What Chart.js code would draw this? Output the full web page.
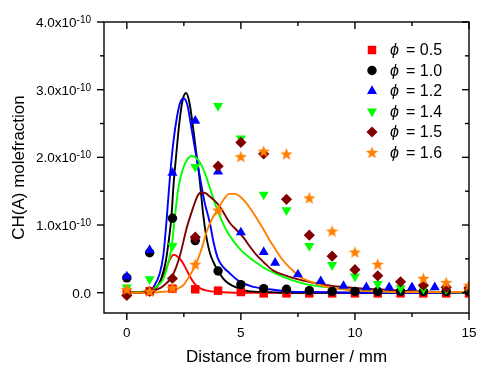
<!DOCTYPE html>
<html>
<head>
<meta charset="utf-8">
<script src="https://cdn.jsdelivr.net/npm/chart.js@4.4.1/dist/chart.umd.min.js"></script>
<style>
  html, body { margin: 0; padding: 0; background: #fff; }
  #wrap { width: 480px; height: 365px; }
</style>
</head>
<body>
<div id="wrap"><canvas id="chart" width="480" height="365"></canvas></div>
<script>
// all CH(A) values are in units of 1e-10
const xMeas = [0, 1, 2, 3, 4, 5, 6, 7, 8, 9, 10, 11, 12, 13, 14, 15];
const phi05 = [0.00, 0.02, 0.06, 0.05, 0.03, 0.01, -0.01, -0.01, -0.01, -0.01, -0.01, -0.01, -0.01, -0.01, -0.01, -0.01];
const phi10 = [0.22, 0.59, 1.10, 0.77, 0.32, 0.12, 0.06, 0.05, 0.03, 0.02, 0.02, 0.02, 0.02, 0.02, 0.02, 0.02];
const xPhi12 = [0, 1, 2, 3, 4, 5, 6, 6.5, 7.5, 8.5, 9.5, 10.5, 11.5, 12.5, 13.5];
const phi12 = [0.24, 0.63, 1.77, 2.54, 1.79, 0.89, 0.60, 0.44, 0.27, 0.17, 0.10, 0.08, 0.08, 0.08, 0.08];
const phi14 = [0.08, 0.20, 0.69, 1.86, 2.76, 2.28, 1.45, 1.22, 0.69, 0.41, 0.24, 0.13, 0.07, 0.06, 0.05, 0.04];
const phi15 = [-0.04, 0.02, 0.21, 0.82, 1.87, 2.22, 2.05, 1.38, 0.85, 0.54, 0.34, 0.25, 0.16, 0.11, 0.08, 0.07];
const xPhi16 = [0, 1, 2, 3, 4, 5, 6, 7, 8, 9, 10, 11, 13, 14, 15];
const phi16 = [0.05, 0.02, 0.07, 0.42, 1.22, 2.01, 2.09, 2.05, 1.40, 0.91, 0.60, 0.42, 0.21, 0.15, 0.11];

// model curves [x, y]
const simPhi05 = [[0,0],[0.5,0],[1,0.02],[1.25,0.07],[1.5,0.17],[1.75,0.38],[1.9,0.5],[2.05,0.56],[2.2,0.54],[2.4,0.47],[2.6,0.35],[2.8,0.22],[3,0.12],[3.25,0.06],[3.5,0.03],[4,0.01],[5,0],[15,0]];
const simPhi10 = [[0,0],[1,0.01],[1.3,0.08],[1.5,0.2],[1.7,0.45],[1.85,0.8],[1.95,1.1],[2.05,1.6],[2.15,1.98],[2.3,2.5],[2.45,2.85],[2.6,2.95],[2.75,2.8],[2.9,2.45],[3.05,2.05],[3.2,1.65],[3.35,1.15],[3.5,0.8],[3.65,0.58],[3.8,0.45],[4,0.32],[4.3,0.18],[4.65,0.1],[5,0.05],[5.4,0.02],[6,0.01],[7,0],[15,0]];
const simPhi12 = [[0,0],[1,0.03],[1.2,0.1],[1.45,0.29],[1.6,0.55],[1.75,1.1],[1.9,1.75],[2.05,2.25],[2.2,2.6],[2.35,2.82],[2.5,2.87],[2.65,2.78],[2.8,2.5],[3,2.1],[3.2,1.72],[3.4,1.35],[3.64,1.03],[3.8,0.75],[4,0.5],[4.25,0.37],[4.5,0.29],[4.8,0.2],[5.1,0.14],[5.5,0.09],[6,0.06],[6.5,0.04],[7,0.02],[8,0.01],[10,0],[15,0]];
const simPhi14 = [[0,0],[1,0.03],[1.15,0.05],[1.4,0.12],[1.6,0.2],[1.8,0.42],[1.97,0.69],[2.1,1.1],[2.26,1.55],[2.45,1.82],[2.65,1.97],[2.85,2.02],[3.05,1.99],[3.25,1.9],[3.45,1.74],[3.64,1.55],[3.85,1.33],[4.08,1.13],[4.35,0.93],[4.66,0.77],[5,0.63],[5.3,0.54],[5.7,0.44],[6.1,0.35],[6.6,0.27],[7.2,0.19],[7.8,0.13],[8.3,0.1],[9.3,0.06],[10,0.04],[11,0.02],[12,0.01],[13,0.01],[15,0]];
const simPhi15 = [[0,0],[1,0.02],[1.6,0.1],[2,0.25],[2.33,0.55],[2.62,0.95],[2.9,1.25],[3.1,1.43],[3.25,1.48],[3.45,1.47],[3.64,1.42],[3.85,1.36],[4.08,1.27],[4.3,1.15],[4.52,1.03],[4.8,0.93],[5.1,0.82],[5.4,0.68],[5.7,0.55],[6,0.45],[6.4,0.33],[7,0.25],[7.6,0.19],[8.3,0.14],[9,0.1],[10,0.07],[11,0.05],[12,0.03],[13,0.02],[14,0.01],[15,0.01]];
const simPhi16 = [[0,0],[1,0],[1.5,0.01],[2,0.03],[2.3,0.07],[2.5,0.12],[2.75,0.25],[3,0.4],[3.25,0.62],[3.5,0.9],[3.75,1.1],[4,1.23],[4.25,1.38],[4.5,1.46],[4.75,1.46],[5,1.41],[5.25,1.32],[5.5,1.2],[5.75,1.07],[6,0.93],[6.25,0.78],[6.5,0.65],[6.75,0.52],[7,0.42],[7.3,0.32],[7.6,0.23],[8,0.17],[8.5,0.11],[9,0.07],[9.5,0.05],[10,0.03],[11,0.02],[12,0.01],[15,0.01]];

const legendLabels = ['0.5', '1.0', '1.2', '1.4', '1.5', '1.6'];
const xTicks = [0, 5, 10, 15];
const xTickLabels = ['0', '5', '10', '15'];
const yTicks = [0, 1, 2, 3, 4];
const yTickLabels = ['0.0', '1.0x10', '2.0x10', '3.0x10', '4.0x10'];
const yTickExp = ['', '-10', '-10', '-10', '-10'];

const FONT = '"Liberation Sans", Arial, sans-serif';

// filled five point star, Chart.js only has the line star
function makeStar(color, size) {
  const c = document.createElement('canvas');
  c.width = size; c.height = size;
  const g = c.getContext('2d');
  const cx = size / 2, cy = size / 2 + 0.5, ro = size / 2, ri = ro * 0.42;
  g.beginPath();
  for (let i = 0; i < 10; i++) {
    const r = i % 2 ? ri : ro;
    const a = -Math.PI / 2 + i * Math.PI / 5;
    g.lineTo(cx + r * Math.cos(a), cy + r * Math.sin(a));
  }
  g.closePath();
  g.fillStyle = color;
  g.fill();
  return c;
}
const starImg = makeStar('#ff8000', 13);

const series = [
  { color: '#ff0000', style: 'rect', radius: 6, rotation: 0, xs: xMeas, ys: phi05, sim: simPhi05 },
  { color: '#000000', style: 'circle', radius: 4.7, rotation: 0, xs: xMeas, ys: phi10, sim: simPhi10 },
  { color: '#0000ff', style: 'triangle', radius: 5.8, rotation: 0, xs: xPhi12, ys: phi12, sim: simPhi12 },
  { color: '#00ff00', style: 'triangle', radius: 5.8, rotation: 180, xs: xMeas, ys: phi14, sim: simPhi14 },
  { color: '#800000', style: 'rectRot', radius: 5.6, rotation: 0, xs: xMeas, ys: phi15, sim: simPhi15 },
  { color: '#ff8000', style: starImg, radius: 6, rotation: 0, xs: xPhi16, ys: phi16, sim: simPhi16 },
];

const datasets = [];
series.forEach((s, i) => {
  datasets.push({
    label: 'sim ' + legendLabels[i],
    data: s.sim.map(p => ({ x: p[0], y: p[1] })),
    showLine: true,
    borderColor: s.color,
    borderWidth: 1.9,
    pointRadius: 0,
    cubicInterpolationMode: 'monotone',
    order: 20 - i,
  });
});
series.forEach((s, i) => {
  datasets.push({
    label: 'phi ' + legendLabels[i],
    data: s.xs.map((x, k) => ({ x: x, y: s.ys[k] })),
    showLine: false,
    pointStyle: s.style,
    pointRadius: s.radius,
    pointRotation: s.rotation,
    pointBackgroundColor: s.color,
    pointBorderColor: s.color,
    pointBorderWidth: 0,
    order: 10 - i,
  });
});

function line(ctx, x1, y1, x2, y2) {
  ctx.beginPath(); ctx.moveTo(x1, y1); ctx.lineTo(x2, y2); ctx.stroke();
}

const framePlugin = {
  id: 'frame',
  afterDatasetsDraw(chart) {
    const { ctx, chartArea: a, scales } = chart;
    const sx = scales.x, sy = scales.y;
    ctx.save();
    ctx.strokeStyle = '#000';
    ctx.lineWidth = 1.4;
    ctx.strokeRect(a.left, a.top, a.right - a.left, a.bottom - a.top);

    // x ticks: out at bottom, in at top
    xTicks.forEach((v, i) => {
      const px = sx.getPixelForValue(v);
      line(ctx, px, a.bottom, px, a.bottom + 7);
      line(ctx, px, a.top, px, a.top + 7);
      if (i < xTicks.length - 1) {
        const pm = sx.getPixelForValue((v + xTicks[i + 1]) / 2);
        line(ctx, pm, a.bottom, pm, a.bottom + 4);
        line(ctx, pm, a.top, pm, a.top + 4);
      }
    });
    // y ticks: out at left, in at right
    yTicks.forEach((v, i) => {
      const py = sy.getPixelForValue(v);
      line(ctx, a.left - 7, py, a.left, py);
      line(ctx, a.right - 7, py, a.right, py);
      if (i < yTicks.length - 1) {
        const pm = sy.getPixelForValue((v + yTicks[i + 1]) / 2);
        line(ctx, a.left - 4, pm, a.left, pm);
        line(ctx, a.right - 4, pm, a.right, pm);
      }
    });

    ctx.fillStyle = '#000';
    ctx.font = '13.5px ' + FONT;
    ctx.textAlign = 'center';
    ctx.textBaseline = 'middle';
    xTicks.forEach((v, i) => {
      ctx.fillText(xTickLabels[i], sx.getPixelForValue(v), a.bottom + 20);
    });

    const rightEdge = a.left - 13;
    yTicks.forEach((v, i) => {
      const py = sy.getPixelForValue(v);
      ctx.textAlign = 'right';
      ctx.textBaseline = 'alphabetic';
      let w = 0;
      if (yTickExp[i]) {
        ctx.font = '10px ' + FONT;
        ctx.fillText(yTickExp[i], rightEdge, py + 1);
        w = ctx.measureText(yTickExp[i]).width;
      }
      ctx.font = '13.5px ' + FONT;
      ctx.fillText(yTickLabels[i], rightEdge - w, py + 5);
    });

    // axis titles
    ctx.font = '17px ' + FONT;
    ctx.textAlign = 'center';
    ctx.textBaseline = 'middle';
    ctx.fillText('Distance from burner / mm', (a.left + a.right) / 2, a.bottom + 44);
    ctx.save();
    ctx.translate(19, (a.top + a.bottom) / 2);
    ctx.rotate(-Math.PI / 2);
    ctx.fillText('CH(A) molefraction', 0, 0);
    ctx.restore();

    // legend
    series.forEach((s, i) => {
      const ly = 50 + i * 20.5;
      ctx.fillStyle = s.color;
      ctx.strokeStyle = s.color;
      Chart.helpers.drawPoint(ctx, { pointStyle: s.style, radius: s.radius, rotation: s.rotation, borderWidth: 0 }, 372, ly);
      ctx.fillStyle = '#000';
      ctx.textAlign = 'left';
      ctx.textBaseline = 'middle';
      ctx.font = 'italic 16px ' + FONT;
      ctx.fillText('\u03D5', 390, ly + 1);
      ctx.font = '16px ' + FONT;
      ctx.fillText('= ' + legendLabels[i], 406, ly + 1);
    });
    ctx.restore();
  }
};

new Chart(document.getElementById('chart'), {
  type: 'scatter',
  data: { datasets },
  options: {
    responsive: false,
    animation: false,
    layout: { padding: { left: 104, right: 11, top: 22, bottom: 52 } },
    plugins: { legend: { display: false }, tooltip: { enabled: false } },
    scales: {
      x: { type: 'linear', min: -1, max: 15, display: false },
      y: { type: 'linear', min: -0.3, max: 4, display: false },
    }
  },
  plugins: [framePlugin]
});
</script>
</body>
</html>
